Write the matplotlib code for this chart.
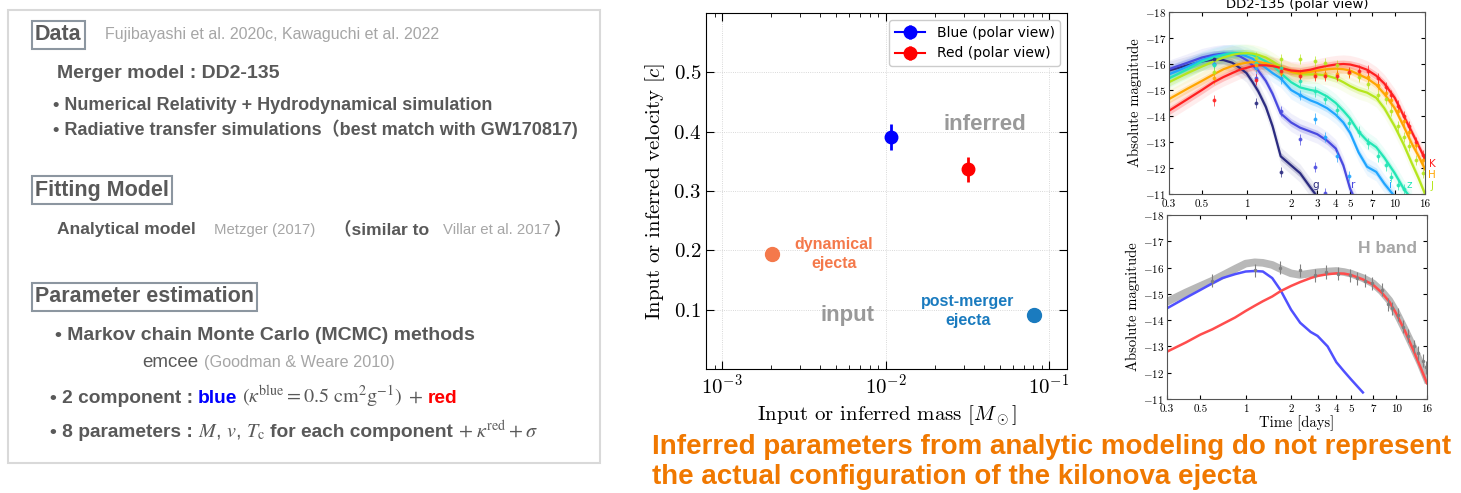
import numpy as np
import matplotlib
matplotlib.use("Agg")
import matplotlib.pyplot as plt
import matplotlib.ticker as mticker
from matplotlib.patches import Rectangle

plt.rcParams['font.family'] = 'serif'
plt.rcParams['font.serif'] = ['cmr10']
plt.rcParams['mathtext.fontset'] = 'cm'
plt.rcParams['axes.formatter.use_mathtext'] = True
plt.rcParams['axes.unicode_minus'] = False

# ---- middle panel: inferred vs input ejecta ----
blue_mass, blue_vel, blue_err = [0.0108], [0.391], [0.022]
red_mass, red_vel, red_err = [0.0318], [0.337], [0.021]
dyn_mass, dyn_vel = [0.00202], [0.1945]
pm_mass, pm_vel = [0.0807], [0.0917]
vel_ticks = [0.1, 0.2, 0.3, 0.4, 0.5]

# ---- right top panel: DD2-135 light curves (model + observations) ----
t_model = [0.3, 0.4, 0.5, 0.6, 0.7, 0.8, 0.9, 1.0, 1.1, 1.2, 1.35, 1.5, 1.7, 2.0, 2.3,
           2.7, 3.0, 3.5, 4.0, 4.5, 5.0, 5.7, 6.5, 7.5, 8.5, 10, 11.5, 13, 14.5, 16]
nan = np.nan
g_model = [-15.75, -15.95, -16.1, -16.17, -16.15, -16.05, -15.85, -15.65, -15.3, -14.95, -14.35, -13.6,
           -12.45, -12.1, -11.8, -11.25, -10.9] + [nan] * 13
r_model = [-15.8, -16.05, -16.25, -16.35, -16.4, -16.38, -16.3, -16.15, -15.95, -15.75, -15.35, -14.85,
           -14.1, -13.75, -13.55, -13.4, -13.3, -13.05, -12.75, -12.1, -11.2, -10.5] + [nan] * 8
i_model = [-15.6, -15.9, -16.15, -16.3, -16.38, -16.4, -16.38, -16.3, -16.2, -16.05, -15.85, -15.65,
           -15.45, -15.0, -14.8, -14.6, -14.5, -14.3, -14.05, -13.75, -13.35, -12.6, -12.05, -11.85,
           -11.4, -10.9, nan, nan, nan, nan]
z_model = [-15.45, -15.8, -16.1, -16.25, -16.35, -16.42, -16.42, -16.4, -16.35, -16.25, -16.1, -15.95,
           -15.65, -15.3, -15.1, -15.0, -14.95, -14.75, -14.5, -14.2, -13.9, -13.4, -13.05, -12.8,
           -12.4, -11.8, -11.2, -10.8, nan, nan]
J_model = [-15.3, -15.65, -15.9, -16.1, -16.25, -16.35, -16.4, -16.42, -16.4, -16.35, -16.25, -16.1,
           -15.9, -15.7, -15.6, -15.6, -15.6, -15.55, -15.45, -15.3, -15.15, -15.0, -14.9, -14.7,
           -14.3, -13.6, -12.9, -12.2, -11.6, -11.0]
H_model = [-14.65, -15.05, -15.35, -15.6, -15.8, -15.92, -16.0, -16.05, -16.07, -16.07, -16.03, -15.95,
           -15.85, -15.7, -15.65, -15.7, -15.75, -15.8, -15.82, -15.8, -15.75, -15.6, -15.45, -15.2,
           -14.85, -14.3, -13.6, -12.95, -12.45, -11.95]
K_model = [-14.2, -14.65, -15.0, -15.3, -15.5, -15.65, -15.78, -15.85, -15.92, -15.95, -15.95, -15.92,
           -15.85, -15.75, -15.72, -15.78, -15.85, -15.93, -15.98, -16.0, -15.98, -15.9, -15.78, -15.55,
           -15.25, -14.7, -14.0, -13.4, -12.85, -12.35]

t_obs = [0.6, 1.15, 1.7, 2.3, 2.9, 3.4, 4.1, 4.9, 5.7, 6.6, 7.7, 8.7, 9.5, 10.5, 11.5, 12.5, 14, 15.5]
g_obs = [-16.2, -14.5, -11.85] + [nan] * 15
r_obs = [-16.0, -15.45, -14.2, -13.1, -12.05, -11.05] + [nan] * 12
i_obs = [-16.0, -15.85, -15.45, -14.8, -13.9, -13.2, -12.45, -11.7] + [nan] * 10
z_obs = [-15.95, -16.05, -15.85, -15.35, -14.95, -14.65, -14.25, -13.75, -13.4, -12.95, -12.45,
         -12.1, -11.65, -11.35, -11.2, nan, nan, nan]
J_obs = [-15.7, -16.25, -16.2, -16.2, -16.1, -16.05, -15.95, -15.65, -15.5, -15.25, -14.8, -14.65,
         -14.2, -13.6, -13.2, -12.85, -12.3, -11.8]
H_obs = [-15.45, -15.95, -15.65, -15.6, -15.6, -15.6, -15.6, -15.65, -15.6, -15.5, -15.2, -14.9,
         -14.6, -14.2, -13.8, -13.4, -12.9, -12.3]
K_obs = [-14.6, -15.4, -15.75, -15.55, -15.55, -15.55, -15.55, -15.7, -15.75, -15.75, -15.45, -15.1,
         -14.8, -14.4, -14.0, -13.6, -13.0, -12.5]
bands = ['g', 'r', 'i', 'z', 'J', 'H', 'K']
band_colors = ['#2b2b80', '#4a4ae0', '#1fa5ff', '#22e6b5', '#b5e61d', '#ffa500', '#ff2020']
band_models = [g_model, r_model, i_model, z_model, J_model, H_model, K_model]
band_obs = [g_obs, r_obs, i_obs, z_obs, J_obs, H_obs, K_obs]

# ---- right bottom panel: H band decomposition ----
t_h = [0.3, 0.4, 0.5, 0.6, 0.7, 0.85, 1.0, 1.15, 1.3, 1.5, 1.7, 2.0, 2.3, 2.7, 3.0, 3.5, 4.0, 4.5,
       5.0, 6.0, 7.0, 8.0, 9.0, 10, 11.5, 13, 14.5, 16]
h_total = [-14.7, -15.05, -15.3, -15.5, -15.7, -15.95, -16.15, -16.2, -16.18, -16.1, -15.95, -15.78,
           -15.72, -15.78, -15.82, -15.85, -15.87, -15.83, -15.77, -15.6, -15.4, -15.1, -14.75,
           -14.3, -13.6, -12.95, -12.35, -11.75]
h_blue = [-14.45, -14.85, -15.15, -15.4, -15.6, -15.75, -15.85, -15.87, -15.85, -15.6, -15.15, -14.4,
          -13.9, -13.55, -13.4, -13.0, -12.4, -12.05, -11.75, -11.25] + [nan] * 8
h_red = [-12.8, -13.15, -13.45, -13.65, -13.85, -14.1, -14.35, -14.55, -14.72, -14.9, -15.1, -15.3,
         -15.45, -15.6, -15.68, -15.75, -15.78, -15.77, -15.72, -15.55, -15.35, -15.05, -14.7,
         -14.25, -13.55, -12.85, -12.2, -11.6]
t_h_obs = [0.6, 1.15, 1.7, 2.3, 2.9, 3.4, 4.1, 4.9, 5.5, 6.2, 6.9, 8.0, 8.8, 9.3, 10.2, 11.0, 12.0,
           13.2, 14.0, 15.0, 15.8]
h_obs = [-15.5, -15.9, -16.0, -15.9, -15.7, -15.83, -15.77, -15.7, -15.6, -15.5, -15.4, -15.15,
         -14.6, -14.45, -14.2, -13.75, -13.4, -13.0, -12.75, -12.45, -12.2]

time_ticks = [0.3, 0.5, 1, 2, 3, 4, 5, 7, 10, 16]
time_labels = ['0.3', '0.5', '1', '2', '3', '4', '5', '7', '10', '16']
mag_ticks = [-18, -17, -16, -15, -14, -13, -12, -11]

W, H = 1461, 493
fig = plt.figure(figsize=(W / 100, H / 100), dpi=100)
renderer = fig.canvas.get_renderer()


def fx(x):
    return x / W


def fy(y):
    return 1 - y / H


SANS = ['Liberation Sans', 'Noto Sans CJK JP', 'DejaVu Sans']
DARK = '#595959'
LIGHT = '#a6a6a6'


def put(x, y, s, size, color=DARK, weight='bold', math=False, va='center'):
    kw = dict(fontsize=size, color=color, fontweight=weight, family=SANS, va=va)
    if math:
        kw['math_fontfamily'] = 'stix'
    return fig.text(fx(x), fy(y), s, **kw)


def chain(x, y, parts, gap=5):
    # lay pieces of one line side by side on a common baseline
    for s, size, color, weight, math in parts:
        t = put(x, y, s, size, color, weight, math, va='baseline')
        x = t.get_window_extent(renderer).x1 + gap


# left text box
fig.add_artist(Rectangle((fx(8), fy(463)), fx(600) - fx(8), fy(10) - fy(463),
                         transform=fig.transFigure, fill=False, ec='#d9d9d9', lw=1.5))
hdr_box = dict(boxstyle='square,pad=0.16', fc='white', ec='#8c96a0', lw=1.5)
fig.text(fx(35), fy(35), 'Data', fontsize=15.5, weight='bold', color=DARK, family=SANS,
         va='center', bbox=hdr_box)
put(105, 35, 'Fujibayashi et al. 2020c, Kawaguchi et al. 2022', 11.5, LIGHT, 'normal')
put(57, 74, 'Merger model : DD2-135', 14)
put(53, 106, '• Numerical Relativity + Hydrodynamical simulation', 13)
put(53, 129, '• Radiative transfer simulations（best match with GW170817)', 13)
fig.text(fx(35), fy(190), 'Fitting Model', fontsize=15.5, weight='bold', color=DARK, family=SANS,
         va='center', bbox=hdr_box)
base = 234
put(57, base, 'Analytical model', 12.6, va='baseline')
put(214, base, 'Metzger (2017)', 10.7, LIGHT, 'normal', va='baseline')
put(334, base, '（similar to', 12.6, va='baseline')
put(443, base, 'Villar et al. 2017', 10.8, LIGHT, 'normal', va='baseline')
put(553, base, '）', 12.6, va='baseline')
fig.text(fx(35), fy(297), 'Parameter estimation', fontsize=15.5, weight='bold', color=DARK,
         family=SANS, va='center', bbox=hdr_box)
put(55, 335, '• Markov chain Monte Carlo (MCMC) methods', 14)
base = 367
put(142, base, 'emcee', 13.5, weight='normal', va='baseline')
put(204, base, '(Goodman & Weare 2010)', 11.7, LIGHT, 'normal', va='baseline')
chain(50, 403, [('• 2 component :', 13.8, DARK, 'bold', False),
                ('blue', 13.8, '#0000ff', 'bold', False),
                (r'$(\kappa^{\rm blue} = 0.5\ {\rm cm^2 g^{-1}})$', 14.5, DARK, 'normal', True),
                (r'$+$', 14.5, DARK, 'normal', True),
                ('red', 13.8, '#ff0000', 'bold', False)])
chain(50, 437, [('• 8 parameters :', 13.8, DARK, 'bold', False),
                (r'$M$, $v$, $T_{\rm c}$', 14.5, DARK, 'normal', True),
                ('for each component', 13.8, DARK, 'bold', False),
                (r'$+\ \kappa^{\rm red} + \sigma$', 14.5, DARK, 'normal', True)])

# middle panel
ax = fig.add_axes([fx(706), fy(369), fx(1067) - fx(706), fy(13) - fy(369)])
ax.set_xscale('log')
ax.set_xlim(10 ** -3.098, 10 ** -0.89)
ax.set_ylim(0, 0.6)
ax.set_yticks(vel_ticks)
ax.grid(True, which='major', color='#cccccc', lw=0.6, ls=':')
ax.tick_params(which='both', direction='in', top=True, right=True, labelsize=15)
ax.tick_params(which='major', length=6)
ax.tick_params(which='minor', length=3)
ax.errorbar(blue_mass, blue_vel, yerr=blue_err, fmt='o-', color='blue', ms=9, elinewidth=2,
            label='Blue (polar view)')
ax.errorbar(red_mass, red_vel, yerr=red_err, fmt='o-', color='red', ms=9, elinewidth=2,
            label='Red (polar view)')
ax.plot(dyn_mass, dyn_vel, 'o', color='#f4794b', ms=10)
ax.plot(pm_mass, pm_vel, 'o', color='#1a7bbf', ms=10)
ax.set_xlabel(r'Input or inferred mass $[M_\odot]$', fontsize=15)
ax.set_ylabel(r'Input or inferred velocity $[c]$', fontsize=15)
ax.legend(loc='upper right', prop={'family': 'DejaVu Sans', 'size': 10}, handlelength=2.2,
          framealpha=1, edgecolor='#cccccc')
fig.text(fx(985), fy(125), 'inferred', fontsize=16, weight='bold', color='#999999', family=SANS,
         ha='center', va='center')
fig.text(fx(847), fy(316), 'input', fontsize=16, weight='bold', color='#999999', family=SANS,
         ha='center', va='center')
fig.text(fx(834), fy(254), 'dynamical\nejecta', fontsize=11.5, weight='bold', color='#f4794b',
         family=SANS, ha='center', va='center', linespacing=1.3)
fig.text(fx(968), fy(311), 'post-merger\nejecta', fontsize=11.5, weight='bold', color='#1a7bbf',
         family=SANS, ha='center', va='center', linespacing=1.3)


def style_lc(a):
    a.set_xscale('log')
    a.set_xlim(0.3, 16)
    a.set_ylim(-11, -18)
    a.xaxis.set_major_locator(mticker.FixedLocator(time_ticks))
    a.xaxis.set_major_formatter(mticker.FixedFormatter(time_labels))
    a.xaxis.set_minor_locator(mticker.NullLocator())
    a.set_yticks(mag_ticks)
    a.set_yticklabels([r'$%d$' % m for m in mag_ticks])
    a.tick_params(direction='in', top=True, right=True, labelsize=8, length=3, pad=2)
    a.tick_params(axis='x', pad=4)
    a.set_ylabel('Absolute magnitude', fontsize=10.5, labelpad=2)
    for s in a.spines.values():
        s.set_color('#555555')


# right top panel
ax1 = fig.add_axes([fx(1169), fy(194), fx(1425) - fx(1169), fy(12) - fy(194)])
style_lc(ax1)
for name, col, mod, obs in zip(bands, band_colors, band_models, band_obs):
    m = np.array(mod)
    ax1.fill_between(t_model, m - 0.35, m + 0.35, color=col, alpha=0.08, lw=0)
    ax1.fill_between(t_model, m - 0.15, m + 0.15, color=col, alpha=0.22, lw=0)
    ax1.plot(t_model, m, color=col, lw=1.6)
    ax1.errorbar(t_obs, obs, yerr=0.2, fmt='o', color=col, ms=1.8, elinewidth=0.6, alpha=0.8)
ax1.set_title('DD2-135 (polar view)', fontsize=9.5, family='DejaVu Sans', pad=3)
for name, col, x, y in zip(bands, band_colors, [1316, 1353, 1391, 1409, 1432, 1432, 1432],
                           [185, 185, 185, 185, 186, 175, 164]):
    fig.text(fx(x), fy(y), name, color=col, fontsize=7.5, family='DejaVu Sans', ha='center',
             va='center')

# right bottom panel
ax2 = fig.add_axes([fx(1167), fy(399), fx(1427) - fx(1167), fy(215) - fy(399)])
style_lc(ax2)
ax2.plot(t_h, h_total, color='#b8b8b8', lw=5.5)
ax2.plot(t_h, h_blue, color='#5050ff', lw=1.8)
ax2.plot(t_h, h_red, color='#ff4d4d', lw=1.8)
ax2.errorbar(t_h_obs, h_obs, yerr=0.25, fmt='o', color='#808080', ms=1.5, elinewidth=0.8)
ax2.set_xlabel('Time [days]', fontsize=10.5, labelpad=1)
fig.text(fx(1388), fy(249), 'H band', fontsize=12.5, weight='bold', color='#a6a6a6', family=SANS,
         ha='center', va='center')

# bottom conclusion
ORANGE = '#f07800'
fig.text(fx(652), fy(447), 'Inferred parameters from analytic modeling do not represent',
         fontsize=20, weight='bold', color=ORANGE, family=SANS, va='center')
fig.text(fx(652), fy(477), 'the actual configuration of the kilonova ejecta',
         fontsize=20, weight='bold', color=ORANGE, family=SANS, va='center')

fig.savefig('out.png', dpi=100)
